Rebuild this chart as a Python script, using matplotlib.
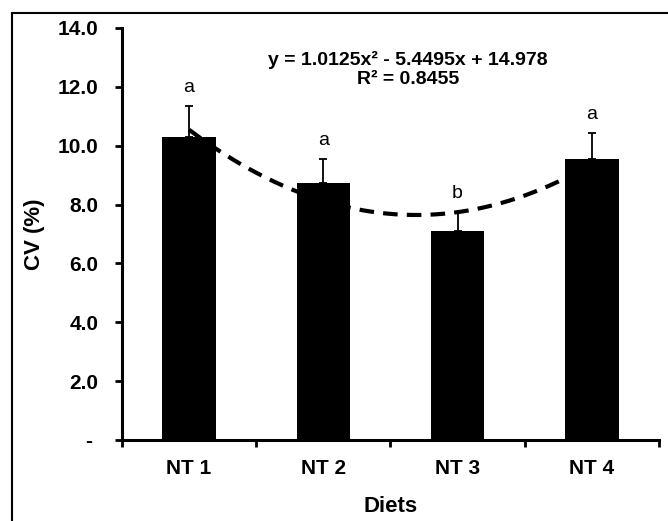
import numpy as np
import matplotlib.pyplot as plt
from matplotlib.patches import Rectangle

plt.rcParams['font.family'] = ['Liberation Sans', 'DejaVu Sans']

# Datos
dietas = ['NT 1', 'NT 2', 'NT 3', 'NT 4']
cv = [10.3, 8.72, 7.09, 9.54]
error = [1.05, 0.82, 0.65, 0.89]
letras = ['a', 'a', 'b', 'a']
# coeficientes de la tendencia polinomica (del rotulo)
coef = [1.0125, -5.4495, 14.978]
yticks = [0, 2, 4, 6, 8, 10, 12, 14]
ytick_labels = ['- ', '2.0', '4.0', '6.0', '8.0', '10.0', '12.0', '14.0']

fig = plt.figure(figsize=(6.68, 5.21), dpi=100)
ax = fig.add_axes([0.1826, 0.1555, 0.8039, 0.7908])

x = np.arange(1, len(dietas) + 1)

# Barras con error solo hacia arriba
ax.bar(x, cv, width=0.4, color='black', zorder=2)
ax.errorbar(x, cv, yerr=[np.zeros(len(error)), error], fmt='none',
            ecolor='black', elinewidth=1.3, capsize=3, capthick=1.3, zorder=3)

# Letras de significancia
for xi, v, e, l in zip(x, cv, error, letras):
    ax.text(xi, v + e + 0.35, l, ha='center', va='bottom', fontsize=14)

# Linea de tendencia
xs = np.linspace(1, 4, 200)
ax.plot(xs, np.polyval(coef, xs), color='black', lw=3,
        linestyle=(0, (3.5, 2.2)), zorder=4)

ax.text(0.532, 0.945, 'y = 1.0125x² - 5.4495x + 14.978\nR² = 0.8455',
        transform=ax.transAxes, ha='center', va='top', fontsize=14,
        fontweight='bold', linespacing=1.2)

# Ejes
ax.set_xlim(0.5, 4.5)
ax.set_ylim(0, 14)
ax.set_yticks(yticks)
ax.set_yticklabels(ytick_labels, fontsize=15, fontweight='bold')
ax.set_xticks(x)
ax.set_xticklabels(dietas, fontsize=15, fontweight='bold')
ax.set_xticks(np.arange(0.5, 4.6, 1), minor=True)
ax.tick_params(axis='x', which='major', length=0, pad=14)
ax.tick_params(axis='x', which='minor', length=5, width=2, direction='out')
ax.tick_params(axis='y', length=5, width=2, direction='out', pad=12)

for s in ['top', 'right']:
    ax.spines[s].set_visible(False)
for s in ['left', 'bottom']:
    ax.spines[s].set_linewidth(2.2)

ax.set_ylabel('CV (%)', fontsize=16, fontweight='bold', labelpad=9)
ax.set_xlabel('Diets', fontsize=16, fontweight='bold', labelpad=13)

# Marco exterior (cortado a derecha y abajo)
fig.add_artist(Rectangle((0.018, -0.1), 1.2, 1.075, transform=fig.transFigure,
                         fill=False, edgecolor='black', lw=1.5))

fig.savefig('out.png', dpi=100)
